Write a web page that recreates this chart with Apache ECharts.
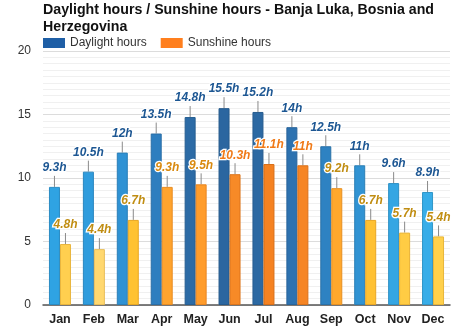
<!DOCTYPE html>
<html><head><meta charset="utf-8">
<script src="https://cdn.jsdelivr.net/npm/echarts@6/dist/echarts.min.js"></script>
<style>html,body{margin:0;padding:0;background:#fff}#c{width:474px;height:331px}</style>
</head><body><div id="c"></div>
<script>
const months = ['Jan','Feb','Mar','Apr','May','Jun','Jul','Aug','Sep','Oct','Nov','Dec'];
const daylight = [9.3,10.5,12,13.5,14.8,15.5,15.2,14,12.5,11,9.6,8.9];
const sunshine = [4.8,4.4,6.7,9.3,9.5,10.3,11.1,11,9.2,6.7,5.7,5.4];
const yTicks = [0,5,10,15,20];

const dayColors = ['#2fa3e3','#2f9cdd','#2f92d4','#2e7ebf','#2c6ba6','#2b66a0','#2c69a3','#2d72b0','#2e82c2','#3193d3','#34a6e3','#38ade8'];
const sunColors = ['#ffcf4f','#ffd86f','#ffc231','#ffa42e','#ff9c2b','#f78a27','#f58221','#f68524','#ffa82d','#ffc133','#ffcc44','#ffd04b'];
const dayBorders = ['#2a8cc4','#2a86bf','#2a7fb8','#2a6ea6','#275f92','#265a8c','#275c8f','#28649a','#2a71a8','#2b7fb6','#2e90c4','#3196c8'];
const sunBorders = ['#e8b43c','#e8be5a','#e8a824','#e88c22','#e88520','#dc741c','#d86e18','#da711a','#e89022','#e8a626','#e8b234','#e8b63a'];
const sunLabelColors = ['#c08d12','#c08d12','#c08d12','#d98a10','#d98a10','#f07a18','#f07a18','#f07a18','#c08d12','#c08d12','#c08d12','#c08d12'];

const chart = echarts.init(document.getElementById('c'));
const BW = 11;
function connector(offset, color){
  return function(params, api){
    const p = api.coord([api.value(0), api.value(1)]);
    const x = p[0] + offset;
    return {type:'line', shape:{x1:x, y1:p[1], x2:x, y2:p[1]-11}, style:{stroke:color, lineWidth:1}};
  };
}
chart.setOption({
  animation:false,
  textStyle:{fontFamily:'Liberation Sans, Arial, sans-serif'},
  title:{text:'Daylight hours / Sunshine hours - Banja Luka, Bosnia and\nHerzegovina', left:43, top:2, padding:0,
    textStyle:{fontSize:14.2, fontWeight:'bold', color:'#111', lineHeight:17, fontFamily:'Liberation Sans, Arial, sans-serif'}},
  legend:{left:43, top:37, padding:0, itemWidth:22, itemHeight:10, itemGap:14, icon:'rect', textStyle:{fontSize:12, color:'#333'},
    data:[{name:'Daylight hours', itemStyle:{color:'#1f5fa6'}},{name:'Sunshine hours', itemStyle:{color:'#ff7f1e'}}]},
  grid:{left:43, right:24, top:51, bottom:26},
  xAxis:{type:'category', data:months, axisTick:{show:false},
    axisLine:{lineStyle:{color:'#555', width:1.5}},
    axisLabel:{fontSize:12.5, fontWeight:'bold', color:'#222', margin:8}},
  yAxis:{type:'value', min:yTicks[0], max:yTicks[yTicks.length-1], interval:5,
    axisLabel:{fontSize:12, color:'#333', margin:12},
    splitLine:{lineStyle:{color:'#dcdcdc'}},
    minorTick:{show:false, splitNumber:10},
    minorSplitLine:{show:true, lineStyle:{color:'#f0f0f0'}}},
  series:[
    {name:'Daylight hours', type:'bar', barWidth:BW, barGap:'0%', data:daylight.map((v,i)=>({value:v,
        itemStyle:{color:dayColors[i], borderColor:dayBorders[i], borderWidth:1}})),
      label:{show:true, position:'top', distance:13, formatter:'{c}h', fontSize:12, fontWeight:'bold', fontStyle:'italic',
        color:'#1d5793', textBorderColor:'#fff', textBorderWidth:2.5}},
    {name:'Sunshine hours', type:'bar', barWidth:BW, barGap:'0%', data:sunshine.map((v,i)=>({value:v,
        itemStyle:{color:sunColors[i], borderColor:sunBorders[i], borderWidth:1},
        label:{color:sunLabelColors[i]}})),
      label:{show:true, position:'top', distance:13, formatter:'{c}h', fontSize:12, fontWeight:'bold', fontStyle:'italic',
        textBorderColor:'#fff', textBorderWidth:2.5}},
    {type:'custom', renderItem:connector(-BW/2, '#8a8a8a'), data:daylight.map((v,i)=>[i,v]), z:1, silent:true},
    {type:'custom', renderItem:connector(BW/2, '#8a8a8a'), data:sunshine.map((v,i)=>[i,v]), z:1, silent:true}
  ]
});
</script></body></html>
